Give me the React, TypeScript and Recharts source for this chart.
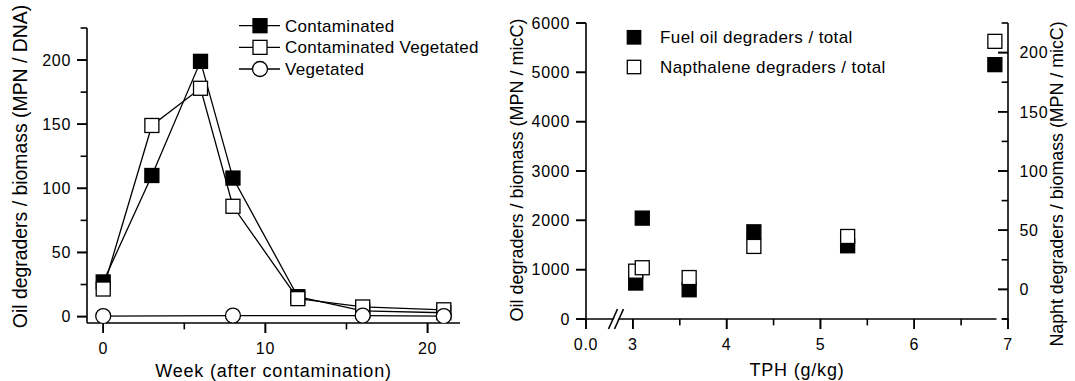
import React from 'react';
import { LineChart, Line, XAxis, YAxis, ScatterChart, Scatter, ReferenceDot } from 'recharts';

const FONT = '"Liberation Sans", Arial, Helvetica, sans-serif';

// ---- Left panel data ----
const weeks = [0, 3, 6, 8, 12, 16, 21];
const contaminated = [27, 110, 199, 108, 15.5, 4.5, 3];
const contaminatedVegetated = [21.5, 149, 178, 86, 14, 7.5, 5.3];
const vegetatedWeeks = [0, 8, 16, 21];
const vegetated = [0.4, 0.8, 0.8, 0.4];
const leftSeriesNames = ['Contaminated', 'Contaminated Vegetated', 'Vegetated'];
const leftXTicks = [0, 5, 10, 15, 20];
const leftXMajor = [0, 10, 20];
const leftYTicks = [0, 25, 50, 75, 100, 125, 150, 175, 200, 225];
const leftYMajor = [0, 50, 100, 150, 200];

// ---- Right panel data ----
const tph = [3.03, 3.1, 3.6, 4.29, 5.29, 6.86];
const fuelOil = [729, 2045, 593, 1767, 1484, 5156];
const napthalene = [15.4, 18.3, 10, 36.3, 44.7, 209.5];
const rightSeriesNames = ['Fuel oil degraders / total', 'Napthalene degraders / total'];
const rightXTicks = [2.5, 3, 3.5, 4, 4.5, 5, 5.5, 6, 6.5, 7];
const rightXMajor = [2.5, 3, 4, 5, 6, 7];
const rightXLabels: Record<string, string> = { '2.5': '0.0', '3': '3', '4': '4', '5': '5', '6': '6', '7': '7' };
const rightYLTicks = [0, 1000, 2000, 3000, 4000, 5000, 6000];
const rightYRTicks = [-25, 0, 25, 50, 75, 100, 125, 150, 175, 200, 225];
const rightYRMajor = [0, 50, 100, 150, 200];
const breakAt = 2.82;

const TICK_FONT = 16;
const TICK_LS = '0.7px';
const STROKE_W = 1.3;
const AXIS_W = 1.6;
const TICK_LEN = 10;
const TICK_COLOR = '#000';

type Side = 'bottom' | 'left' | 'right';
// Recharts draws the tick lines (length TICK_LEN); majors are reinforced here,
// minors are shortened by masking their outer part; labels only on majors.
function makeTick(side: Side, majors: number[], fmt: (v: number) => string) {
  return (props: any) => {
    const { x, y, payload } = props;
    const v = payload.value;
    const isMajor = majors.some((m) => Math.abs(m - v) < 1e-9);
    const label = isMajor ? fmt(v) : '';
    const common = { fontFamily: FONT, fontSize: TICK_FONT, fill: '#000', stroke: 'none', style: { letterSpacing: TICK_LS } } as any;
    if (side === 'bottom') {
      return (
        <g>
          {isMajor ? (
            <line x1={x} y1={y - TICK_LEN} x2={x} y2={y} stroke={TICK_COLOR} strokeWidth={AXIS_W} />
          ) : (
            <line x1={x} y1={y - 3.6} x2={x} y2={y + 1.5} stroke="#fff" strokeWidth={3.5} />
          )}
          {label ? (
            <text x={x} y={y + 20.5} textAnchor="middle" {...common}>
              {label}
            </text>
          ) : null}
        </g>
      );
    }
    if (side === 'left') {
      return (
        <g>
          {isMajor ? (
            <line x1={x} y1={y} x2={x + TICK_LEN} y2={y} stroke={TICK_COLOR} strokeWidth={AXIS_W} />
          ) : (
            <line x1={x - 1.5} y1={y} x2={x + 3.6} y2={y} stroke="#fff" strokeWidth={3.5} />
          )}
          {label ? (
            <text x={x - 6} y={y + 5.75} textAnchor="end" {...common}>
              {label}
            </text>
          ) : null}
        </g>
      );
    }
    return (
      <g>
        {isMajor ? (
          <line x1={x} y1={y} x2={x + TICK_LEN} y2={y} stroke={TICK_COLOR} strokeWidth={AXIS_W} />
        ) : (
          <line x1={x - 1.5} y1={y} x2={x + 3.6} y2={y} stroke="#fff" strokeWidth={3.5} />
        )}
        {label ? (
          <text x={x + TICK_LEN + 11.5} y={y + 5.75} textAnchor="start" {...common}>
            {label}
          </text>
        ) : null}
      </g>
    );
  };
}

const squareDot = (fill: string, size = 14) => (props: any) => {
  const { cx, cy, key } = props;
  if (cx == null || cy == null) return <g key={key} />;
  return (
    <rect key={key} x={cx - size / 2} y={cy - size / 2} width={size} height={size} fill={fill} stroke="#000" strokeWidth={STROKE_W} />
  );
};
const circleDot = (props: any) => {
  const { cx, cy, key } = props;
  if (cx == null || cy == null) return <g key={key} />;
  return <circle key={key} cx={cx} cy={cy} r={7.5} fill="#fff" stroke="#000" strokeWidth={STROKE_W} />;
};

const BreakMark = (props: any) => {
  const { cx, cy } = props;
  if (cx == null || cy == null) return <g />;
  return (
    <g>
      <polygon
        points={`${cx - 6},${cy + 8} ${cx + 2},${cy - 8} ${cx + 6},${cy - 8} ${cx - 2},${cy + 8}`}
        fill="#fff"
        stroke="none"
      />
      <line x1={cx - 7.5} y1={cy + 10} x2={cx + 1.5} y2={cy - 10} stroke="#000" strokeWidth={AXIS_W} />
      <line x1={cx - 1.5} y1={cy + 10} x2={cx + 7.5} y2={cy - 10} stroke="#000" strokeWidth={AXIS_W} />
    </g>
  );
};

const axisLineStyle = { stroke: '#000', strokeWidth: AXIS_W };
const tickLineStyle = { stroke: TICK_COLOR, strokeWidth: AXIS_W };

export default function App() {
  const cData = weeks.map((w, i) => ({ week: w, v: contaminated[i] }));
  const cvData = weeks.map((w, i) => ({ week: w, v: contaminatedVegetated[i] }));
  const vData = vegetatedWeeks.map((w, i) => ({ week: w, v: vegetated[i] }));
  const fuelData = tph.map((t, i) => ({ tph: t, v: fuelOil[i] }));
  const naphData = tph.map((t, i) => ({ tph: t, v: napthalene[i] }));

  const leftMarkers = [
    (cx: number, cy: number) => <rect x={cx - 7} y={cy - 7} width={14} height={14} fill="#000" stroke="#000" strokeWidth={STROKE_W} />,
    (cx: number, cy: number) => <rect x={cx - 7} y={cy - 7} width={14} height={14} fill="#fff" stroke="#000" strokeWidth={STROKE_W} />,
    (cx: number, cy: number) => <circle cx={cx} cy={cy} r={7.5} fill="#fff" stroke="#000" strokeWidth={STROKE_W} />,
  ];
  const rightFills = ['#000', '#fff'];

  return (
    <div style={{ position: 'absolute', left: 0, top: 0, width: 1075, height: 381, background: '#fff', fontFamily: FONT }}>
      <div style={{ position: 'absolute', left: 0, top: 0 }}>
        <LineChart width={480} height={381} margin={{ top: 28, right: 20, bottom: 0, left: 0 }}>
          <XAxis
            type="number"
            dataKey="week"
            domain={[-1, 22]}
            ticks={leftXTicks}
            interval={0}
            tickSize={TICK_LEN}
            tickMargin={0}
            tickLine={tickLineStyle}
            axisLine={axisLineStyle}
            stroke="#000"
            height={58}
            tick={makeTick('bottom', leftXMajor, (v) => String(v))}
            allowDataOverflow
          />
          <YAxis
            type="number"
            domain={[-5, 225]}
            ticks={leftYTicks}
            interval={0}
            tickSize={TICK_LEN}
            tickMargin={0}
            tickLine={tickLineStyle}
            axisLine={axisLineStyle}
            stroke="#000"
            width={87}
            tick={makeTick('left', leftYMajor, (v) => String(v))}
            allowDataOverflow
          />
          <Line data={cData} dataKey="v" name={leftSeriesNames[0]} type="linear" stroke="#000" strokeWidth={STROKE_W} dot={squareDot('#000')} activeDot={false} isAnimationActive={false} />
          <Line data={cvData} dataKey="v" name={leftSeriesNames[1]} type="linear" stroke="#000" strokeWidth={STROKE_W} dot={squareDot('#fff')} activeDot={false} isAnimationActive={false} />
          <Line data={vData} dataKey="v" name={leftSeriesNames[2]} type="linear" stroke="#000" strokeWidth={STROKE_W} dot={circleDot} activeDot={false} isAnimationActive={false} />
        </LineChart>
      </div>

      <div style={{ position: 'absolute', left: 480, top: 0 }}>
        <ScatterChart width={595} height={381} margin={{ top: 23, right: 67, bottom: 0, left: 0 }}>
          <XAxis
            type="number"
            dataKey="tph"
            domain={[2.5, 7]}
            ticks={rightXTicks}
            interval={0}
            tickSize={TICK_LEN}
            tickMargin={0}
            tickLine={tickLineStyle}
            axisLine={axisLineStyle}
            stroke="#000"
            height={62}
            tick={makeTick('bottom', rightXMajor, (v) => rightXLabels[String(v)] ?? String(v))}
            allowDataOverflow
          />
          <YAxis
            yAxisId="L"
            type="number"
            dataKey="v"
            domain={[0, 6000]}
            ticks={rightYLTicks}
            interval={0}
            tickSize={TICK_LEN}
            tickMargin={0}
            tickLine={tickLineStyle}
            axisLine={axisLineStyle}
            stroke="#000"
            width={106}
            tick={makeTick('left', rightYLTicks, (v) => String(v))}
            allowDataOverflow
          />
          <YAxis
            yAxisId="R"
            orientation="right"
            mirror
            type="number"
            dataKey="v"
            domain={[-25, 225]}
            ticks={rightYRTicks}
            interval={0}
            tickSize={TICK_LEN}
            tickMargin={0}
            tickLine={tickLineStyle}
            axisLine={axisLineStyle}
            stroke="#000"
            width={67}
            tick={makeTick('right', rightYRMajor, (v) => String(v))}
            allowDataOverflow
          />
          <Scatter data={fuelData} yAxisId="L" name={rightSeriesNames[0]} shape={squareDot(rightFills[0])} isAnimationActive={false} />
          <Scatter data={naphData} yAxisId="R" name={rightSeriesNames[1]} shape={squareDot(rightFills[1])} isAnimationActive={false} />
          <ReferenceDot x={breakAt} y={0} yAxisId="L" ifOverflow="visible" shape={BreakMark} />
        </ScatterChart>
      </div>

      <svg width={1075} height={381} style={{ position: 'absolute', left: 0, top: 0, pointerEvents: 'none' }}>
        {leftSeriesNames.map((name, i) => {
          const cy = 25.7 + i * 21.65;
          return (
            <g key={name}>
              <line x1={239} y1={cy} x2={280} y2={cy} stroke="#000" strokeWidth={STROKE_W} />
              {leftMarkers[i](260, cy)}
              <text x={285} y={cy + 6} fontFamily={FONT} fontSize={17} fill="#000" style={{ letterSpacing: '0.3px' }}>
                {name}
              </text>
            </g>
          );
        })}
        {rightSeriesNames.map((name, i) => {
          const cy = 37.3 + i * 29.7;
          return (
            <g key={name}>
              <rect x={634 - 6.7} y={cy - 6.7} width={13.4} height={13.4} fill={rightFills[i]} stroke="#000" strokeWidth={STROKE_W} />
              <text x={660} y={cy + 6} fontFamily={FONT} fontSize={17} fill="#000" style={{ letterSpacing: '0.4px' }}>
                {name}
              </text>
            </g>
          );
        })}
        <text x={273.5} y={377} textAnchor="middle" fontFamily={FONT} fontSize={18} fill="#000" style={{ letterSpacing: '0.8px' }}>
          Week (after contamination)
        </text>
        <text transform="translate(27,166.5) rotate(-90)" textAnchor="middle" fontFamily={FONT} fontSize={19.4} fill="#000">
          Oil degraders / biomass (MPN / DNA)
        </text>
        <text x={797} y={376} textAnchor="middle" fontFamily={FONT} fontSize={18} fill="#000" style={{ letterSpacing: '0.8px' }}>
          TPH (g/kg)
        </text>
        <text transform="translate(523,170) rotate(-90)" textAnchor="middle" fontFamily={FONT} fontSize={18} fill="#000">
          Oil degraders / biomass (MPN / micC)
        </text>
        <text transform="translate(1063,184) rotate(-90)" textAnchor="middle" fontFamily={FONT} fontSize={17.8} fill="#000">
          Napht degraders / biomass (MPN / micC)
        </text>
      </svg>
    </div>
  );
}
